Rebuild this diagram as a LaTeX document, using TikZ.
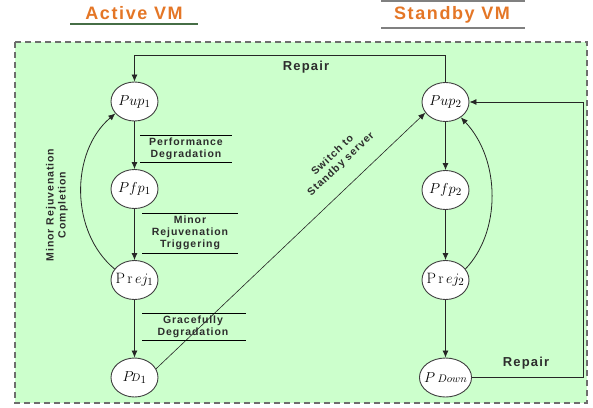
\documentclass[tikz,border=0pt]{standalone}
\usepackage{fontspec}
\newfontfamily\labfont[LetterSpace=9]{Liberation Sans}
\usetikzlibrary{arrows.meta,shapes.geometric}
\definecolor{bggreen}{RGB}{204,255,204}
\definecolor{orangeT}{RGB}{228,118,38}
\definecolor{labgray}{RGB}{45,45,45}
\definecolor{bordergray}{RGB}{110,110,110}
\definecolor{lineGreen}{RGB}{70,110,70}
\tikzset{
  state/.style={ellipse,draw=black!75,fill=white,line width=0.9pt,minimum width=47pt,minimum height=39pt,inner xsep=-3pt,inner ysep=0pt,font=\fontsize{15}{15}\selectfont},
  arr/.style={-{Latex[length=7pt,width=6pt]},line width=0.8pt,draw=black!85},
  lab/.style={font=\labfont\bfseries\fontsize{10.5}{12}\selectfont,text=labgray,align=center,inner sep=0pt},
  biglab/.style={font=\labfont\bfseries\fontsize{13}{15}\selectfont,text=labgray,inner sep=0pt},
  title/.style={font=\labfont\bfseries\fontsize{18}{20}\selectfont,text=orangeT,inner sep=0pt},
  bar/.style={line width=0.8pt,draw=black}
}
\begin{document}
\begin{tikzpicture}[x=1pt,y=-1pt]
\useasboundingbox (0,0) rectangle (593,407);
% background panel
\filldraw[fill=bggreen,draw=bordergray,line width=1.2pt,dash pattern=on 6pt off 4pt] (15,42) rectangle (587,403);
% titles
\node[title] (tact) at (134,13) {Active VM};
\draw[draw=lineGreen,line width=1.2pt] (70,24) -- (198,24);
\node[title] (tstb) at (452,15) {Standby VM};
\draw[draw=gray,line width=1.6pt] (381,1) -- (525,1);
\draw[draw=gray,line width=1.6pt] (381,28) -- (525,28);
% states
\node[state] (pup1) at (134.5,101.5) {$Pup_1$};
\node[state] (pfp1) at (134.5,189) {$Pfp_1$};
\node[state] (prej1) at (134.5,280) {$\mathrm{P\,r}\,ej_1$};
\node[state] (pd1) at (134.5,377.5) {$P\!{\scriptstyle D}_{1}$};
\node[state] (pup2) at (445.5,102) {$Pup_2$};
\node[state] (pfp2) at (445.5,190) {$Pfp_2$};
\node[state] (prej2) at (445.5,280) {$\mathrm{P\,r}\,ej_2$};
\node[state] (pdown) at (445.5,377.5) {$P\,{\scriptstyle Down}$};
% vertical transitions
\draw[arr] (pup1) -- (pfp1);
\draw[arr] (pfp1) -- (prej1);
\draw[arr] (prej1) -- (pd1);
\draw[arr] (pup2) -- (pfp2);
\draw[arr] (pfp2) -- (prej2);
\draw[arr] (prej2) -- (pdown);
% curved returns
\draw[arr] (prej1.151) .. controls (70,232) and (70,152) .. (pup1.212);
\draw[arr] (prej2.29) .. controls (501,232) and (501,160) .. (pup2.-45);
% switch
\draw[arr,line width=0.6pt] (pd1.22) -- (pup2.208);
% repair loops
\draw[arr] (pup2.north) -- ++(0,-27) -| (pup1.north);
\draw[arr] (pdown.east) -- ++(111,0) |- (pup2.east);
% labels
\node[biglab] (rep1) at (306,67) {Repair};
\node[biglab] (rep2) at (526,363) {Repair};
\node[lab] (perf) at (186,148.5) {Performance\\Degradation};
\draw[bar] (140,135) -- (232,135);
\draw[bar] (140,162) -- (232,162);
\node[lab] (mrt) at (190,233) {Minor\\Rejuvenation\\Triggering};
\draw[bar] (142,213) -- (238,213);
\draw[bar] (142,253) -- (238,253);
\node[lab] (gd) at (193,326.5) {Gracefully\\Degradation};
\draw[bar] (142,313) -- (246,313);
\draw[bar] (142,340) -- (246,340);
\node[lab,rotate=90] (mrc) at (57,205) {Minor Rejuvenation\\Completion};
\node[lab,rotate=43.5] (sw) at (337,160) {Switch to\\Standby server};
\end{tikzpicture}
\end{document}
